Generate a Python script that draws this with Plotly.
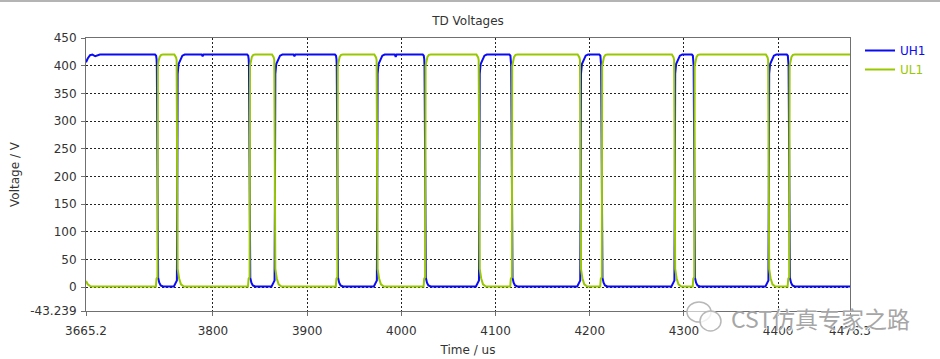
import plotly.graph_objects as go

# ---------------- data ----------------
T_START, T_END = 3665.2, 4476.3

X_TICKS = [3665.2, 3800, 3900, 4000, 4100, 4200, 4300, 4400, 4476.3]
X_TICK_TEXT = ["3665.2", "3800", "3900", "4000", "4100", "4200", "4300", "4400", "4476.3"]
Y_MIN, Y_MAX = -43.239, 450
Y_TICKS = [-43.239, 0, 50, 100, 150, 200, 250, 300, 350, 400, 450]
Y_TICK_TEXT = ["-43.239", "0", "50", "100", "150", "200", "250", "300", "350", "400", "450"]

# instants (us) where UH1 switches off / UL1 switches on
UH1_OFF_US = [3741.0, 3838.8, 3932.0, 4025.2, 4117.2, 4212.7, 4310.9, 4411.7]
# instants (us) where UL1 switches off / UH1 switches on
UH1_ON_US = [3762.0, 3865.7, 3974.3, 4082.7, 4190.2, 4290.2, 4390.0]

# measured edge shapes: (offset from switching instant in us, volts)
UH1_FALL = [(-2.5, 420), (-1.4, 418), (-0.9, 412), (-0.6, 400), (-0.45, 360), (-0.2, 260),
            (0.0, 155), (0.3, 58), (0.8, 17), (2.0, 8), (3.5, 3), (6.0, 1)]
UL1_RISE = [(-1.6, 1), (-1.0, 15), (0.1, 18), (0.5, 400), (1.4, 410), (2.5, 416),
            (4.0, 419.5), (6.0, 420)]
UL1_FALL = [(-3.0, 420), (-1.2, 415), (-0.6, 410), (-0.3, 300), (0.1, 118), (0.5, 33),
            (2.0, 16), (4.0, 5), (7.0, 1)]
UH1_RISE = [(-3.5, 1), (-1.2, 9), (-0.3, 12), (0.1, 170), (0.5, 385), (1.5, 403),
            (3.5, 412), (5.5, 418), (8.0, 420)]

# beginning of the record
UH1_START = [(3665.2, 406), (3667.0, 413), (3669.5, 419), (3672.0, 420), (3675.0, 417),
             (3677.5, 418), (3680.0, 420)]
UL1_START = [(3665.2, 11), (3667.0, 5), (3670.0, 1.5), (3672.0, 1)]
UH1_END_V = 1
UL1_END_V = 420

# small dips on the UH1 high level: (time us, volts)
UH1_DIPS = [(3789.0, 417), (3886.5, 417), (3994.0, 416)]

BLUE = "#0A0AF5"
GREEN = "#99C800"

# ---------------- build series ----------------
def place(profile, t0):
    return [(t0 + dt, v) for dt, v in profile]

uh1 = list(UH1_START)
ul1 = list(UL1_START)
for t in UH1_OFF_US:
    uh1 += place(UH1_FALL, t)
    ul1 += place(UL1_RISE, t)
for t in UH1_ON_US:
    uh1 += place(UH1_RISE, t)
    ul1 += place(UL1_FALL, t)
for t, v in UH1_DIPS:
    uh1 += [(t - 1.0, 420), (t, v), (t + 1.0, 420)]
uh1.append((T_END, UH1_END_V))
ul1.append((T_END, UL1_END_V))
uh1.sort()
ul1.sort()

# ---------------- figure ----------------
PL, PR, PT, PB = 86, 850, 38, 311
W, H = 940, 359


def px_x(x):
    return (x - PL) / (PR - PL)


def px_y(y):
    return (PB - y) / (PB - PT)


fig = go.Figure()
fig.add_trace(go.Scatter(x=[p[0] for p in uh1], y=[p[1] for p in uh1], mode="lines",
                         name=f"<span style='color:{BLUE}'>UH1</span>",
                         line=dict(color=BLUE, width=2)))
fig.add_trace(go.Scatter(x=[p[0] for p in ul1], y=[p[1] for p in ul1], mode="lines",
                         name=f"<span style='color:{GREEN}'>UL1</span>",
                         line=dict(color=GREEN, width=2)))

axis_common = dict(
    showgrid=True, gridcolor="#222222", gridwidth=1, griddash="2px,2px",
    showline=True, linecolor="#707070", linewidth=1, mirror=True,
    ticks="outside", ticklen=4, tickcolor="#707070",
    zeroline=False, tickfont=dict(family="DejaVu Sans", size=12, color="#333333"),
)

fig.update_xaxes(range=[T_START, T_END], tickmode="array", tickvals=X_TICKS, ticktext=X_TICK_TEXT,
                 ticklabelstandoff=5,
                 title=dict(text="Time / us", font=dict(family="DejaVu Sans", size=12, color="#333333"),
                            standoff=8),
                 **axis_common)
fig.update_yaxes(range=[Y_MIN, Y_MAX], tickmode="array", tickvals=Y_TICKS, ticktext=Y_TICK_TEXT,
                 ticklabelstandoff=2,
                 title=dict(text="Voltage / V", font=dict(family="DejaVu Sans", size=12, color="#333333"),
                            standoff=8),
                 **axis_common)

fig.update_layout(
    width=W, height=H,
    margin=dict(l=PL, r=W - PR, t=PT, b=H - PB, autoexpand=False),
    paper_bgcolor="white", plot_bgcolor="white",
    font=dict(family="DejaVu Sans", size=12, color="#333333"),
    title=dict(text="TD Voltages", x=0.5, xref="paper", xanchor="center",
               y=1 - 20.5 / H, yref="container", yanchor="middle",
               font=dict(family="DejaVu Sans", size=12, color="#333333")),
    showlegend=True,
    legend=dict(x=px_x(860), y=px_y(36), xanchor="left", yanchor="top",
                bgcolor="rgba(0,0,0,0)", borderwidth=0, tracegroupgap=0,
                font=dict(family="DejaVu Sans", size=12)),
)

# top frame line of the image
fig.add_shape(type="line", xref="paper", yref="paper", x0=px_x(0), x1=px_x(W),
              y0=px_y(1), y1=px_y(1), line=dict(color="#b4b4b4", width=2))

# watermark icon (two bubbles) and text
fig.add_shape(type="circle", xref="paper", yref="paper", x0=px_x(687), x1=px_x(711),
              y0=px_y(322), y1=px_y(302), line=dict(color="#b8b8b8", width=1.5),
              fillcolor="rgba(255,255,255,0.6)")
fig.add_shape(type="circle", xref="paper", yref="paper", x0=px_x(700), x1=px_x(721),
              y0=px_y(331), y1=px_y(311), line=dict(color="#b8b8b8", width=1.5),
              fillcolor="rgba(255,255,255,0.8)")
fig.add_annotation(text="CST仿真专家之路", xref="paper", yref="paper", x=px_x(729), y=px_y(318),
                   xanchor="left", yanchor="middle", showarrow=False,
                   font=dict(family="Noto Sans CJK SC", size=23, color="#a6a6a6",
                             shadow="1px 1px 1px #ffffff"))

fig.write_html("out.html", config={"displayModeBar": False},
               post_script="document.body.style.margin='0';")
